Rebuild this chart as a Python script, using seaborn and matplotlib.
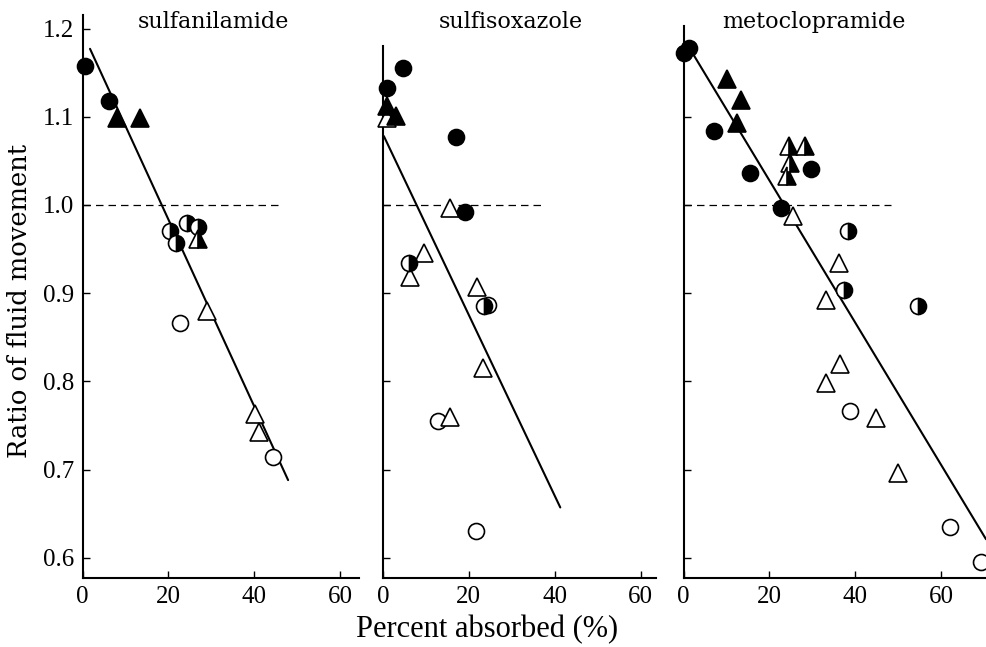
import matplotlib
matplotlib.use("Agg")
import matplotlib.pyplot as plt
import seaborn as sns
import pandas as pd

# ---------------- data ----------------
titles = ["sulfanilamide", "sulfisoxazole", "metoclopramide"]
x_ticks = [0, 20, 40, 60]
y_ticks = [0.6, 0.7, 0.8, 0.9, 1.0, 1.1, 1.2]
y_tick_labels = ["0.6", "0.7", "0.8", "0.9", "1.0", "1.1", "1.2"]

# sulfanilamide
p1_fc_x = [0.5, 6.2];            p1_fc_y = [1.157, 1.118]
p1_ft_x = [8.0, 13.4];           p1_ft_y = [1.098, 1.098]
p1_hc_x = [20.4, 21.8, 24.3, 27.0]; p1_hc_y = [0.970, 0.957, 0.979, 0.975]
p1_ht_x = [27.0];                p1_ht_y = [0.961]
p1_oc_x = [22.6, 44.4];          p1_oc_y = [0.866, 0.714]
p1_ot_x = [28.9, 40.1, 41.1];    p1_ot_y = [0.880, 0.763, 0.743]
p1_fit_x = [1.75, 47.9];         p1_fit_y = [1.177, 0.688]
p1_ref_x = [0, 46.8]

# sulfisoxazole
p2_fc_x = [0.9, 4.7, 17.0, 19.1]; p2_fc_y = [1.133, 1.155, 1.077, 0.992]
p2_ft_x = [0.9, 3.0];             p2_ft_y = [1.112, 1.101]
p2_hc_x = [6.1, 23.5];            p2_hc_y = [0.934, 0.885]
p2_ht_x = [];                     p2_ht_y = []
p2_oc_x = [24.5, 12.9, 21.7];     p2_oc_y = [0.886, 0.755, 0.630]
p2_ot_x = [1.0, 15.6, 9.6, 6.3, 21.8, 23.4, 15.5]
p2_ot_y = [1.099, 0.996, 0.945, 0.918, 0.907, 0.815, 0.760]
p2_fit_x = [0.2, 41.3];           p2_fit_y = [1.078, 0.657]
p2_ref_x = [0, 37.5]

# metoclopramide
p3_fc_x = [0.0, 1.2, 7.1, 15.5, 29.8, 22.8]
p3_fc_y = [1.172, 1.178, 1.084, 1.036, 1.041, 0.997]
p3_ft_x = [10.2, 13.3, 12.4];     p3_ft_y = [1.143, 1.119, 1.093]
p3_hc_x = [38.4, 37.5, 54.6];     p3_hc_y = [0.971, 0.903, 0.885]
p3_ht_x = [24.6, 28.3, 24.8, 24.2]; p3_ht_y = [1.067, 1.067, 1.048, 1.033]
p3_oc_x = [38.9, 62.0, 69.4];     p3_oc_y = [0.766, 0.635, 0.595]
p3_ot_x = [25.4, 36.3, 33.2, 36.4, 33.2, 44.9, 50.1]
p3_ot_y = [0.987, 0.934, 0.892, 0.820, 0.798, 0.758, 0.696]
p3_fit_x = [1.6, 70.5];           p3_fit_y = [1.176, 0.621]
p3_ref_x = [0, 48.4]

panels = [
    dict(fc=(p1_fc_x, p1_fc_y), ft=(p1_ft_x, p1_ft_y), hc=(p1_hc_x, p1_hc_y),
         ht=(p1_ht_x, p1_ht_y), oc=(p1_oc_x, p1_oc_y), ot=(p1_ot_x, p1_ot_y),
         fit=(p1_fit_x, p1_fit_y), ref=p1_ref_x),
    dict(fc=(p2_fc_x, p2_fc_y), ft=(p2_ft_x, p2_ft_y), hc=(p2_hc_x, p2_hc_y),
         ht=(p2_ht_x, p2_ht_y), oc=(p2_oc_x, p2_oc_y), ot=(p2_ot_x, p2_ot_y),
         fit=(p2_fit_x, p2_fit_y), ref=p2_ref_x),
    dict(fc=(p3_fc_x, p3_fc_y), ft=(p3_ft_x, p3_ft_y), hc=(p3_hc_x, p3_hc_y),
         ht=(p3_ht_x, p3_ht_y), oc=(p3_oc_x, p3_oc_y), ot=(p3_ot_x, p3_ot_y),
         fit=(p3_fit_x, p3_fit_y), ref=p3_ref_x),
]

# ---------------- layout / style ----------------
sns.set_theme(style="ticks")
plt.rcParams["font.family"] = ["Liberation Serif", "DejaVu Serif"]
plt.rcParams["text.color"] = "black"
plt.rcParams["xtick.color"] = "black"
plt.rcParams["ytick.color"] = "black"
plt.rcParams["xtick.labelcolor"] = "black"
plt.rcParams["ytick.labelcolor"] = "black"

W, H = 986, 647
fig = plt.figure(figsize=(W / 100, H / 100), dpi=100)

ax_px = [(82.5, 358.5, 64.3), (383.0, 656.0, 63.6), (683.6, 986.0, 70.5)]
spine_tops = [1.215, 1.18, 1.203]
title_x = [30.4, 29.8, 30.4]
ylim = (0.577, 1.215)
bottom_px, top_px = 578, 15.3

styles = {
    "fc": dict(marker="o", ms=11.5, mfc="black", mec="black", fillstyle="full"),
    "ft": dict(marker="^", ms=13.5, mfc="black", mec="black", fillstyle="full"),
    "oc": dict(marker="o", ms=11.5, mfc="white", mec="black", fillstyle="full"),
    "ot": dict(marker="^", ms=13.5, mfc="white", mec="black", fillstyle="full"),
    "hc": dict(marker="o", ms=11.5, mfc="black", mec="black", fillstyle="right",
               markerfacecoloralt="white"),
    "ht": dict(marker="^", ms=13.5, mfc="black", mec="black", fillstyle="right",
               markerfacecoloralt="white"),
}

for i, (pan, (l, r, xmax)) in enumerate(zip(panels, ax_px)):
    ax = fig.add_axes([l / W, (H - bottom_px) / H, (r - l) / W, (bottom_px - top_px) / H])
    ax.set_xlim(0, xmax)
    ax.set_ylim(*ylim)

    # reference dashed line at 1.0
    ref_df = pd.DataFrame({"x": pan["ref"], "y": [1.0, 1.0]})
    sns.lineplot(data=ref_df, x="x", y="y", ax=ax, color="black", lw=0.9,
                 dashes=False, linestyle=(0, (6, 4)), estimator=None, sort=False)
    # regression line
    fit_df = pd.DataFrame({"x": pan["fit"][0], "y": pan["fit"][1]})
    sns.lineplot(data=fit_df, x="x", y="y", ax=ax, color="black", lw=1.5,
                 estimator=None, sort=False)

    for key in ["oc", "ot", "hc", "ht", "fc", "ft"]:
        xs, ys = pan[key]
        if len(xs) == 0:
            continue
        df = pd.DataFrame({"x": xs, "y": ys})
        st = styles[key]
        sns.lineplot(data=df, x="x", y="y", ax=ax, estimator=None, sort=False,
                     linestyle="none", marker=st["marker"], markersize=st["ms"],
                     markerfacecolor=st["mfc"], markeredgecolor=st["mec"],
                     markeredgewidth=1.2, fillstyle=st["fillstyle"],
                     markerfacecoloralt=st.get("markerfacecoloralt", "white"),
                     color="black", clip_on=False, zorder=3)

    sns.despine(ax=ax)
    for s in ["left", "bottom"]:
        ax.spines[s].set_linewidth(1.5)
        ax.spines[s].set_color("black")
    ax.spines["left"].set_bounds(ylim[0], spine_tops[i])

    ax.set_xticks(x_ticks)
    ax.set_xticklabels([str(t) for t in x_ticks], fontsize=18)
    if i == 0:
        ax.set_yticks(y_ticks)
        ax.set_yticklabels(y_tick_labels, fontsize=18)
    else:
        ax.set_yticks(y_ticks[:-1])
        ax.set_yticklabels([])
    ax.tick_params(direction="in", length=5, width=1.0, colors="black", pad=6)
    ax.set_xlabel("")
    ax.set_ylabel("")
    ax.text(title_x[i], 1.207, titles[i], ha="center", va="center",
            fontsize=16, family="DejaVu Serif", color="black")
    ax.patch.set_alpha(0)

fig.text(20 / W, 1 - 301 / H, "Ratio of fluid movement", rotation=90,
         ha="center", va="center", fontsize=18.5, family="DejaVu Serif",
         color="black")
fig.text(487 / W, 1 - 630 / H, "Percent absorbed (%)", ha="center", va="center",
         fontsize=22, color="black")

fig.savefig("out.png", dpi=100, facecolor="white")
